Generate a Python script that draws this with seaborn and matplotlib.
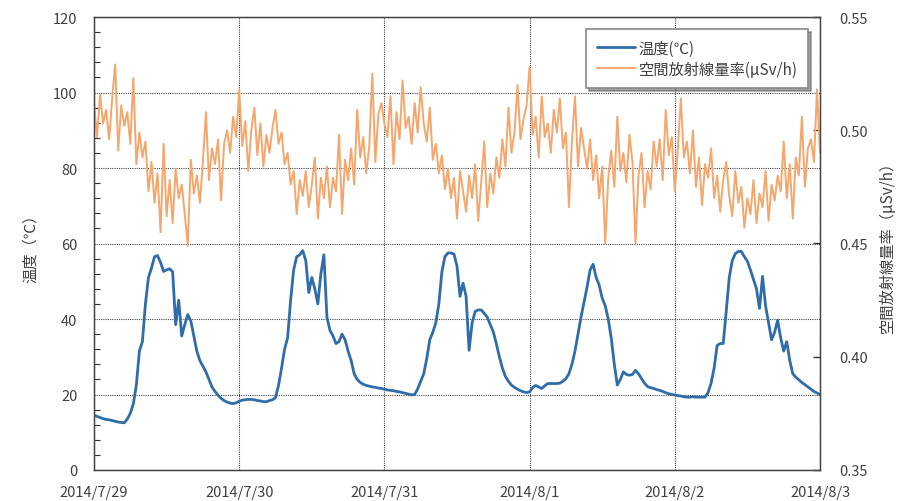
import pandas as pd
import numpy as np
import matplotlib
matplotlib.use('Agg')
import matplotlib.pyplot as plt
import seaborn as sns
from matplotlib.ticker import MultipleLocator

# datos, cada 30 minutos desde 2014/7/29 0:00
temperatura = [
    14.5, 14.2, 13.9, 13.6, 13.4, 13.3, 13.1, 12.9, 12.7, 12.6, 12.5, 13.5,
    15.0, 17.5, 22.5, 31.5, 34.0, 44.0, 51.0, 53.5, 56.5, 56.8, 55.0, 52.6,
    53.0, 53.3, 52.5, 38.5, 45.0, 35.5, 38.5, 41.2, 39.5, 35.5, 31.5, 29.0,
    27.5, 26.0, 24.0, 22.0, 20.8, 19.8, 19.0, 18.4, 18.0, 17.7, 17.6, 17.8,
    18.2, 18.5, 18.6, 18.7, 18.7, 18.6, 18.4, 18.3, 18.1, 18.1, 18.4, 18.6,
    19.2, 22.4, 27.0, 32.0, 35.0, 45.0, 53.0, 56.5, 57.0, 58.1, 55.5, 47.0,
    51.0, 48.0, 44.0, 52.0, 57.0, 40.5, 37.0, 35.5, 33.5, 34.0, 36.0, 34.5,
    31.5, 29.0, 25.5, 24.0, 23.2, 22.7, 22.4, 22.2, 22.0, 21.9, 21.7, 21.6,
    21.4, 21.2, 21.1, 21.0, 20.8, 20.7, 20.5, 20.3, 20.1, 19.9, 20.0, 21.5,
    23.5, 25.5, 29.5, 34.5, 36.5, 39.0, 44.0, 52.5, 56.5, 57.5, 57.5, 57.2,
    54.0, 46.0, 49.5, 46.0, 31.7, 39.0, 42.0, 42.4, 42.4, 41.5, 40.5, 38.5,
    36.6, 33.5, 30.0, 27.0, 24.8, 23.5, 22.5, 21.9, 21.4, 21.0, 20.7, 20.5,
    20.7, 21.8, 22.4, 22.0, 21.6, 22.3, 22.9, 22.9, 22.9, 22.9, 23.0, 23.5,
    24.2, 25.5, 28.0, 31.5, 36.0, 40.5, 44.5, 48.5, 53.0, 54.5, 51.0, 49.0,
    45.5, 43.5, 40.0, 34.9, 28.0, 22.5, 24.0, 26.0, 25.3, 25.1, 25.3, 26.4,
    25.5, 24.2, 23.0, 22.1, 21.8, 21.6, 21.3, 21.1, 20.8, 20.5, 20.2, 20.0,
    19.9, 19.7, 19.6, 19.4, 19.3, 19.3, 19.4, 19.3, 19.3, 19.3, 19.3, 20.5,
    23.0, 27.0, 33.0, 33.5, 33.5, 42.0, 51.0, 55.5, 57.3, 57.9, 57.9, 56.5,
    55.3, 53.0, 50.5, 48.0, 42.8, 51.3, 43.5, 39.0, 34.5, 36.5, 39.7, 35.0,
    31.5, 34.0, 29.0, 25.5, 24.6, 23.9, 23.2, 22.6, 22.0, 21.4, 20.8, 20.4,
    20.0,
]

radiacion = [
    0.512, 0.497, 0.516, 0.503, 0.509, 0.496, 0.514, 0.529, 0.491, 0.511, 0.502, 0.508,
    0.494, 0.523, 0.485, 0.499, 0.488, 0.495, 0.473, 0.486, 0.468, 0.481, 0.455, 0.494,
    0.462, 0.478, 0.459, 0.483, 0.470, 0.476, 0.463, 0.449, 0.487, 0.472, 0.480, 0.468,
    0.486, 0.508, 0.478, 0.492, 0.485, 0.496, 0.469, 0.494, 0.500, 0.490, 0.506, 0.497,
    0.518, 0.493, 0.504, 0.482, 0.500, 0.510, 0.489, 0.503, 0.484, 0.498, 0.490, 0.501,
    0.509, 0.494, 0.499, 0.485, 0.490, 0.476, 0.482, 0.463, 0.478, 0.471, 0.482, 0.466,
    0.476, 0.488, 0.461, 0.479, 0.470, 0.484, 0.466, 0.479, 0.473, 0.498, 0.463, 0.487,
    0.478, 0.492, 0.476, 0.509, 0.488, 0.497, 0.481, 0.493, 0.525, 0.486, 0.507, 0.512,
    0.503, 0.497, 0.515, 0.485, 0.508, 0.496, 0.522, 0.501, 0.506, 0.494, 0.512, 0.499,
    0.519, 0.503, 0.495, 0.510, 0.487, 0.494, 0.481, 0.489, 0.474, 0.483, 0.470, 0.479,
    0.461, 0.482, 0.473, 0.464, 0.480, 0.470, 0.485, 0.460, 0.477, 0.495, 0.466, 0.481,
    0.472, 0.488, 0.479, 0.496, 0.484, 0.510, 0.490, 0.499, 0.520, 0.496, 0.505, 0.511,
    0.528, 0.498, 0.506, 0.488, 0.515, 0.497, 0.503, 0.490, 0.509, 0.499, 0.514, 0.492,
    0.499, 0.466, 0.495, 0.515, 0.484, 0.501, 0.492, 0.483, 0.496, 0.478, 0.489, 0.470,
    0.484, 0.450, 0.479, 0.491, 0.475, 0.506, 0.482, 0.490, 0.477, 0.498, 0.486, 0.450,
    0.480, 0.490, 0.466, 0.482, 0.474, 0.495, 0.484, 0.496, 0.478, 0.509, 0.489, 0.497,
    0.473, 0.492, 0.514, 0.488, 0.495, 0.481, 0.500, 0.475, 0.488, 0.467, 0.485, 0.479,
    0.492, 0.470, 0.480, 0.464, 0.478, 0.486, 0.471, 0.462, 0.482, 0.468, 0.475, 0.457,
    0.470, 0.463, 0.478, 0.459, 0.472, 0.466, 0.482, 0.460, 0.476, 0.469, 0.480, 0.473,
    0.495, 0.470, 0.485, 0.461, 0.488, 0.480, 0.506, 0.475, 0.492, 0.496, 0.486, 0.518,
    0.490,
]

fechas_ticks = ['2014-07-29', '2014-07-30', '2014-07-31', '2014-08-01', '2014-08-02', '2014-08-03']
etiquetas_x = ['2014/7/29', '2014/7/30', '2014/7/31', '2014/8/1', '2014/8/2', '2014/8/3']

etiqueta_temp = '温度(℃)'
etiqueta_rad = '空間放射線量率(μSv/h)'

# tabla para seaborn
tiempo = pd.date_range('2014-07-29', periods=len(temperatura), freq='30min')
df = pd.DataFrame({'tiempo': tiempo, 'temp': temperatura, 'rad': radiacion})

sns.set_style('white')
plt.rcParams['font.family'] = ['Noto Sans CJK JP', 'DejaVu Sans']

color_temp = '#2F6DAA'
color_rad = '#F5A66C'
gris = '#404040'

fig = plt.figure(figsize=(9.08, 5.02), dpi=100)
ax = fig.add_axes([94 / 908, 1 - 471 / 502, 726 / 908, 453 / 502])
ax2 = ax.twinx()

sns.lineplot(data=df, x='tiempo', y='temp', ax=ax, color=color_temp, linewidth=2.0, label=etiqueta_temp, legend=False)
sns.lineplot(data=df, x='tiempo', y='rad', ax=ax2, color=color_rad, linewidth=1.4, label=etiqueta_rad, legend=False)

ax.set_xlim(pd.Timestamp(fechas_ticks[0]), pd.Timestamp(fechas_ticks[-1]))
ax.set_ylim(0, 120)
ax2.set_ylim(0.35, 0.55)

ax.set_xticks(pd.to_datetime(fechas_ticks))
ax.set_xticklabels(etiquetas_x)
ax.set_yticks(np.arange(0, 121, 20))
ax.yaxis.set_minor_locator(MultipleLocator(4))
ax2.set_yticks([0.35, 0.40, 0.45, 0.50, 0.55])
ax2.set_yticklabels(['0.35', '0.40', '0.45', '0.50', '0.55'])

ax.tick_params(axis='x', length=0, pad=11, labelsize=10.5, colors=gris)
ax.tick_params(axis='y', which='major', direction='in', length=0, pad=12, labelsize=10.5, colors=gris)
ax.tick_params(axis='y', which='minor', direction='in', length=4, width=0.8, color='#333333')
ax2.tick_params(axis='y', direction='in', length=5, width=1, pad=14, labelsize=10.5, colors=gris)
ax2.tick_params(axis='y', color='#333333')

ax.grid(True, which='major', axis='both', color='#444444', linestyle=(0, (1, 1)), linewidth=0.8)
ax2.grid(False)

for sp in ax2.spines.values():
    sp.set_color('#444444')
    sp.set_linewidth(1.0)

ax.set_xlabel('')
ax.set_ylabel('温度（℃）', fontsize=11, color=gris, labelpad=10)
ax2.set_ylabel('空間放射線量率（μSv/h）', fontsize=11, color=gris, rotation=90, labelpad=8)

# leyenda combinada
h1, l1 = ax.get_legend_handles_labels()
h2, l2 = ax2.get_legend_handles_labels()
leg = ax2.legend(h1 + h2, l1 + l2, loc='upper right', bbox_to_anchor=(808 / 908, 1 - 30 / 502),
                 bbox_transform=fig.transFigure, fontsize=11, frameon=True, fancybox=False,
                 shadow=True, handlelength=2.5, handletextpad=0.2, borderpad=0.7,
                 labelspacing=0.25, borderaxespad=0)
leg.get_frame().set_edgecolor('#888888')
leg.get_frame().set_linewidth(1.2)
for t in leg.get_texts():
    t.set_color(gris)

fig.savefig('out.png', dpi=100)
